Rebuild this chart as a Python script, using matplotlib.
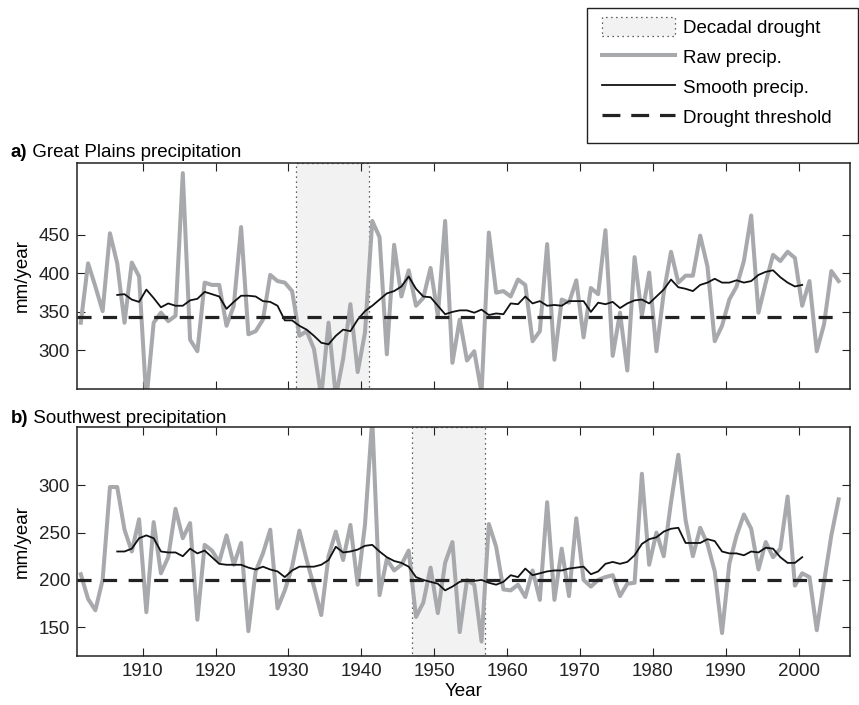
import numpy as np
import matplotlib
matplotlib.use('Agg')
import matplotlib.pyplot as plt
from matplotlib.patches import Patch, Rectangle
from matplotlib.lines import Line2D

plt.rcParams['font.family'] = ['Liberation Sans', 'DejaVu Sans']
plt.rcParams['font.size'] = 13.5

years = np.arange(1901, 2006)
smooth_years = np.arange(1906, 2001)

# Great Plains annual precipitation (mm/year)
gp_raw = [336, 413, 383, 351, 452, 413, 336, 414, 396, 235,
          336, 349, 338, 345, 530, 314, 299, 388, 385, 385,
          332, 358, 460, 321, 325, 340, 398, 390, 388, 377,
          319, 325, 302, 240, 336, 240, 289, 360, 272, 323,
          468, 447, 295, 437, 370, 404, 358, 368, 407, 345,
          468, 284, 340, 287, 299, 245, 453, 375, 377, 370,
          392, 385, 312, 325, 438, 288, 366, 362, 391, 317,
          381, 373, 456, 293, 349, 274, 421, 345, 401, 299,
          375, 428, 388, 397, 397, 449, 409, 312, 332, 366,
          383, 416, 475, 349, 388, 424, 416, 428, 420, 358,
          390, 299, 334, 403, 390]
gp_smooth = [372, 373, 366, 363, 379, 368, 356, 361, 358, 358,
             365, 367, 376, 373, 370, 354, 363, 371, 371, 370,
             364, 363, 358, 339, 339, 332, 327, 319, 310, 308,
             319, 327, 325, 340, 351, 358, 366, 374, 377, 383,
             396, 380, 370, 369, 358, 347, 350, 352, 352, 349,
             353, 346, 348, 347, 361, 360, 370, 361, 364, 358,
             359, 358, 364, 364, 364, 350, 362, 360, 363, 355,
             361, 365, 366, 361, 370, 379, 392, 382, 380, 377,
             385, 388, 393, 388, 388, 391, 388, 390, 398, 402,
             404, 395, 388, 383, 385]
gp_threshold = 343
gp_drought = (1931, 1941)

# Southwest annual precipitation (mm/year)
sw_raw = [206, 180, 168, 200, 298, 298, 253, 230, 264, 166,
          261, 207, 224, 275, 244, 260, 158, 237, 231, 219,
          247, 216, 239, 146, 209, 228, 253, 170, 189, 214,
          252, 221, 193, 163, 225, 251, 221, 258, 195, 258,
          370, 184, 222, 210, 216, 231, 161, 176, 213, 165,
          218, 240, 145, 200, 195, 135, 259, 235, 190, 189,
          195, 182, 210, 179, 282, 179, 233, 183, 265, 200,
          193, 200, 203, 205, 183, 196, 197, 312, 216, 250,
          225, 282, 332, 263, 225, 255, 238, 209, 144, 217,
          247, 269, 254, 211, 240, 224, 233, 288, 194, 207,
          203, 147, 198, 247, 285]
sw_smooth = [230, 230, 233, 244, 247, 244, 230, 229, 229, 225,
             233, 228, 231, 224, 217, 216, 216, 216, 213, 211,
             214, 211, 209, 203, 210, 214, 214, 214, 216, 221,
             235, 229, 230, 232, 236, 237, 230, 224, 220, 218,
             214, 203, 200, 198, 196, 189, 193, 198, 200, 199,
             200, 197, 195, 198, 205, 203, 212, 205, 207, 209,
             210, 210, 212, 213, 214, 206, 209, 217, 219, 217,
             219, 226, 238, 243, 245, 251, 254, 255, 239, 239,
             239, 243, 241, 230, 228, 228, 226, 230, 229, 234,
             233, 224, 218, 218, 224]
sw_threshold = 200
sw_drought = (1947, 1957)

raw_color = '#a7a9ac'
shade_color = '#f2f2f2'
dots = (0, (1, 3))
dashes = (0, (4.4, 3.6))

fig = plt.figure(figsize=(8.59, 7.05), dpi=100)
ax_a = fig.add_axes([0.0898, 0.4482, 0.8992, 0.3210])
ax_b = fig.add_axes([0.0898, 0.0698, 0.8992, 0.3241])


def draw_panel(ax, raw, smooth, thr, drought, ylim, yticks):
    # annual values are plotted at mid-year
    xpos = years + 0.5
    ax.axvspan(drought[0], drought[1], facecolor=shade_color,
               edgecolor='#333333', linestyle=dots, linewidth=0.9, zorder=0)
    ax.plot(xpos, raw, color=raw_color, linewidth=2.9, zorder=2)
    ax.plot(smooth_years + 0.5, smooth, color='#111111', linewidth=1.3, zorder=3)
    ax.hlines(thr, years[0], xpos[-1], colors='#222222', linewidth=2.3,
              linestyles=dashes, zorder=4)
    ax.set_xlim(1901, 2007)
    ax.set_ylim(*ylim)
    ax.set_yticks(yticks)
    ax.set_xticks(np.arange(1910, 2001, 10))
    ax.set_ylabel('mm/year', labelpad=6)
    ax.tick_params(direction='in', length=5.8, width=0.8, top=True, right=True,
                   pad=5, colors='#222222')
    for sp in ax.spines.values():
        sp.set_linewidth(1.1)
        sp.set_color('#222222')


draw_panel(ax_a, gp_raw, gp_smooth, gp_threshold, gp_drought,
           (250, 543.5), [300, 350, 400, 450])
draw_panel(ax_b, sw_raw, sw_smooth, sw_threshold, sw_drought,
           (120, 361), [150, 200, 250, 300])
ax_a.tick_params(labelbottom=False)
ax_b.set_xlabel('Year', labelpad=2)

# panel titles: bold letter followed by plain text
for label, rest, y in [('a)', ' Great Plains precipitation', 0.777),
                       ('b)', ' Southwest precipitation', 0.400)]:
    t = fig.text(0.0128, y, label, fontweight='bold', fontsize=13.5, va='baseline')
    ax_a.annotate(rest, xy=(1, 0), xycoords=t, va='bottom', ha='left',
                  fontsize=13.5, annotation_clip=False)

handles = [
    Patch(facecolor=shade_color, edgecolor='#333333', linestyle=dots, linewidth=0.9),
    Line2D([], [], color=raw_color, linewidth=2.9),
    Line2D([], [], color='#111111', linewidth=1.3),
    Line2D([], [], color='#222222', linewidth=2.3, linestyle=(0, (5.6, 3.4))),
]
labels = ['Decadal drought', 'Raw precip.', 'Smooth precip.', 'Drought threshold']
leg = fig.legend(handles, labels, loc='upper left',
                 bbox_to_anchor=(602 / 859, 1 - 17 / 705),
                 fontsize=13.5, frameon=False,
                 handlelength=3.9, handleheight=1.2, handletextpad=0.43,
                 labelspacing=0.53, borderpad=0, borderaxespad=0)
# legend box drawn separately so it can be wider than its entries
fig.add_artist(Rectangle((587 / 859, 1 - 143 / 705), 271 / 859, 135 / 705,
                         transform=fig.transFigure, fill=False,
                         edgecolor='#222222', linewidth=1.0))

plt.savefig('out.png', dpi=100)
